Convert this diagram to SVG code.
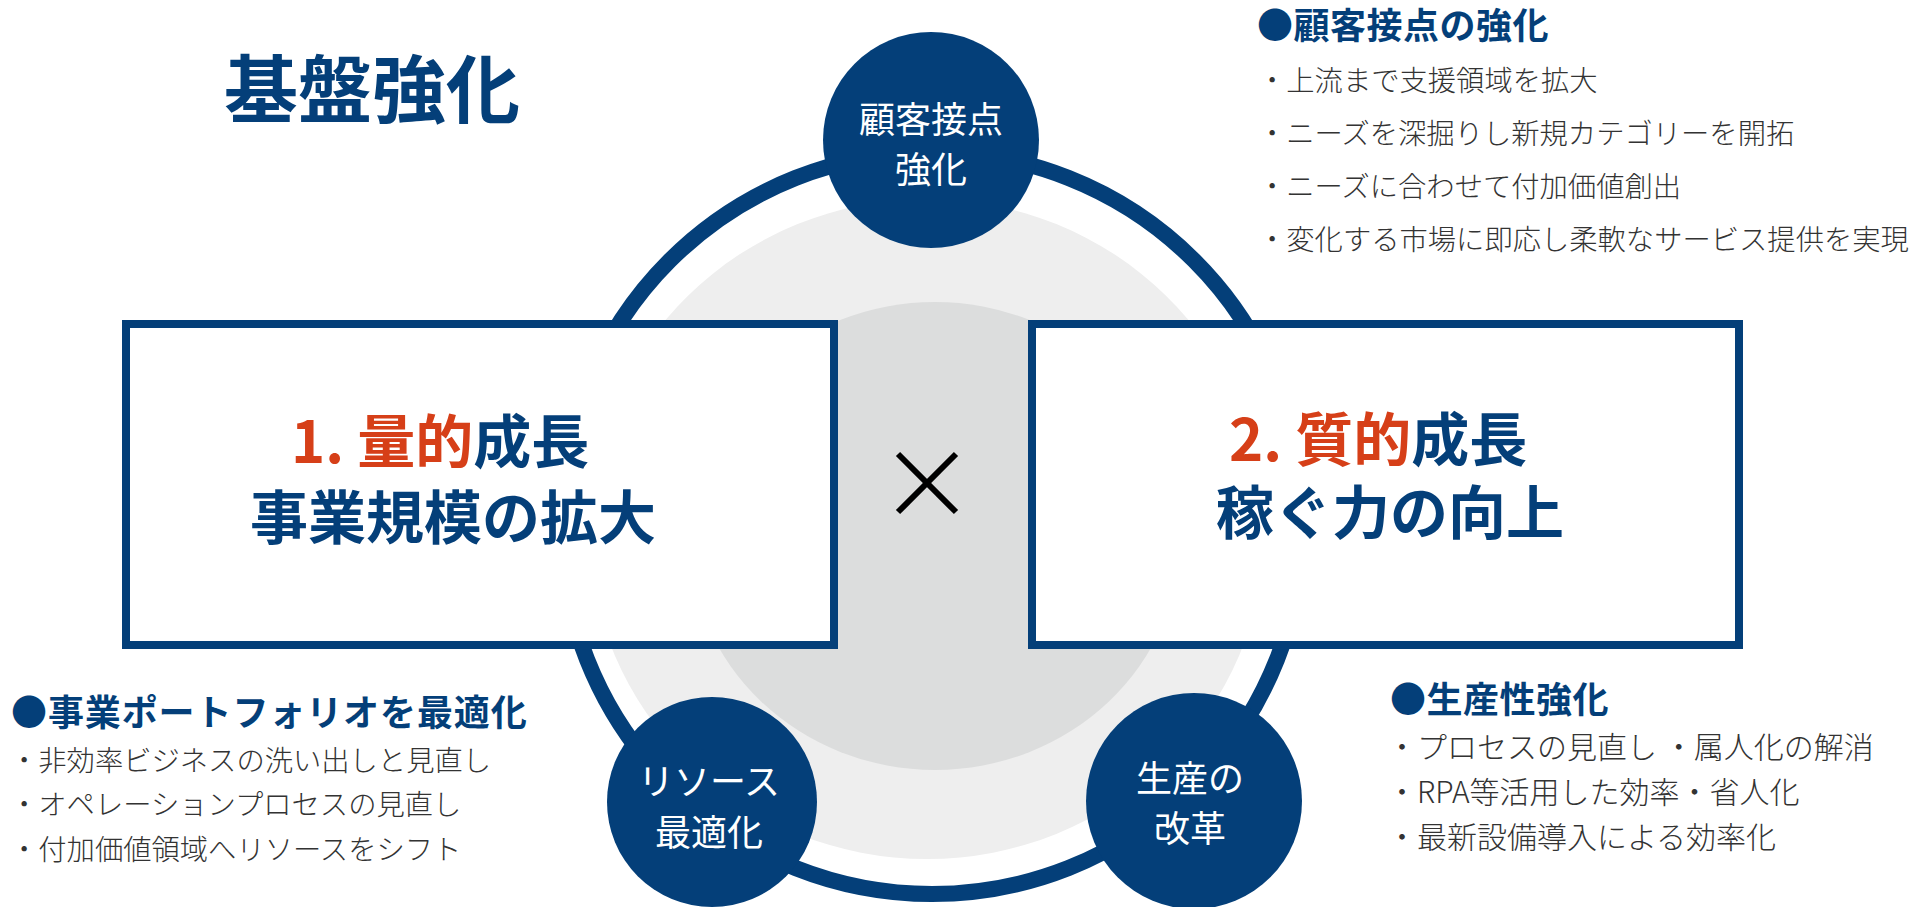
<svg xmlns="http://www.w3.org/2000/svg" width="1918" height="907" viewBox="0 0 1918 907">
  <style>
    text { font-family: "Noto Sans CJK JP", "Noto Sans", sans-serif; }
    .navy { fill: #043f79; }
    .red { fill: #d63f18; }
    .title { font-size: 74px; font-weight: 700; }
    .box { fill: #ffffff; stroke: #043f79; stroke-width: 8; }
    .big { font-size: 58px; font-weight: 700; }
    .node { fill: #043f79; }
    .nodetxt { font-size: 36px; fill: #ffffff; text-anchor: middle; }
    .head { font-size: 36px; font-weight: 700; fill: #043f79; letter-spacing: 0.5px; }
    .item { font-size: 28.3px; font-weight: 300; fill: #333333; }
    .item30 { font-size: 30px; font-weight: 300; fill: #333333; }
    .ring { fill: none; stroke: #043f79; stroke-width: 16; }
  </style>

  <rect x="0" y="0" width="1918" height="907" fill="#ffffff"/>

  <g id="background">
    <ellipse cx="927" cy="529" rx="338" ry="330" fill="#eeeeee"/>
    <ellipse cx="935" cy="536" rx="246" ry="234" fill="#dcdddd"/>
  </g>

  <g id="connectors">
    <circle class="ring" cx="932" cy="523" r="371"/>
  </g>

  <g id="title">
    <text class="title navy" x="224" y="117">基盤強化</text>
  </g>

  <g id="box-quantity">
    <rect class="box" x="126" y="324" width="708" height="321"/>
    <text class="big" x="291" y="463"><tspan class="red">1. 量的</tspan><tspan class="navy">成長</tspan></text>
    <text class="big navy" x="250" y="539">事業規模の拡大</text>
  </g>

  <g id="box-quality">
    <rect class="box" x="1032" y="324" width="707" height="321"/>
    <text class="big" x="1229" y="461"><tspan class="red">2. 質的</tspan><tspan class="navy">成長</tspan></text>
    <text class="big navy" x="1216" y="534">稼ぐ力の向上</text>
  </g>

  <g id="times">
    <line x1="898" y1="454" x2="956" y2="512" stroke="#000000" stroke-width="6"/>
    <line x1="956" y1="454" x2="898" y2="512" stroke="#000000" stroke-width="6"/>
  </g>

  <g id="node-kokyaku">
    <circle class="node" cx="931" cy="140" r="108"/>
    <text class="nodetxt" x="931" y="133">顧客接点</text>
    <text class="nodetxt" x="931" y="183">強化</text>
  </g>

  <g id="node-resource">
    <circle class="node" cx="712" cy="802" r="105"/>
    <text class="nodetxt" x="709" y="795">リソース</text>
    <text class="nodetxt" x="709" y="846">最適化</text>
  </g>

  <g id="node-seisan">
    <circle class="node" cx="1194" cy="801" r="108"/>
    <text class="nodetxt" x="1190" y="792">生産の</text>
    <text class="nodetxt" x="1190" y="842">改革</text>
  </g>

  <g id="note-kokyaku">
    <text class="head" x="1257" y="39">●顧客接点の強化</text>
    <text class="item" x="1258" y="91">・上流まで支援領域を拡大</text>
    <text class="item" x="1258" y="144">・ニーズを深掘りし新規カテゴリーを開拓</text>
    <text class="item" x="1258" y="197">・ニーズに合わせて付加価値創出</text>
    <text class="item" x="1258" y="250">・変化する市場に即応し柔軟なサービス提供を実現</text>
  </g>

  <g id="note-portfolio">
    <text class="head" x="11" y="726" style="letter-spacing:0.9px">●事業ポートフォリオを最適化</text>
    <text class="item" x="10" y="771">・非効率ビジネスの洗い出しと見直し</text>
    <text class="item" x="10" y="815">・オペレーションプロセスの見直し</text>
    <text class="item" x="10" y="860">・付加価値領域へリソースをシフト</text>
  </g>

  <g id="note-seisan">
    <text class="head" x="1390" y="713">●生産性強化</text>
    <text class="item30" x="1387" y="758">・プロセスの見直し ・属人化の解消</text>
    <text class="item30" x="1387" y="803">・RPA等活用した効率・省人化</text>
    <text class="item30" x="1387" y="848">・最新設備導入による効率化</text>
  </g>
</svg>
